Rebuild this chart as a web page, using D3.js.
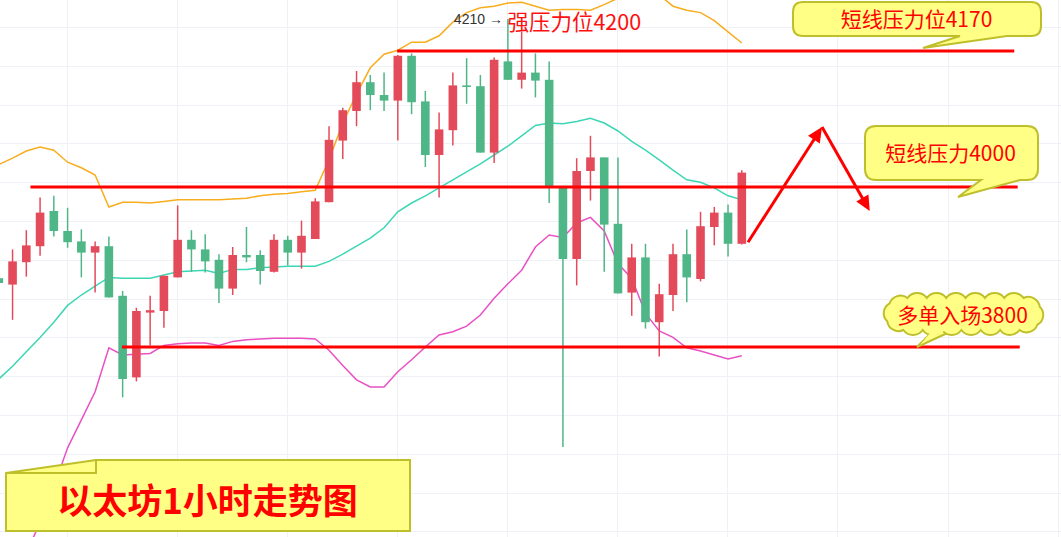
<!DOCTYPE html>
<html><head><meta charset="utf-8">
<script src="https://cdn.jsdelivr.net/npm/d3@7/dist/d3.min.js"></script>
<style>html,body{margin:0;padding:0;background:#fff;overflow:hidden}</style>
</head><body>
<svg id="chart" width="1061" height="537"></svg>
<script>
// ---- data (ETH 1h candles, red = up, green = down) ----
const openP  = [3886,3878,3906,3926,3970,3945,3932,3918,3926,3864,3762,3843,3845,3887,3934,3922,3909,3873,3915,3915,3894,3934,3918,3935,3981,4058,4095,4131,4115,4108,4164,4107,4040,4071,4127,4126,4043,4157,4134,4143,4134,4000,3910,4020,4037,3954,3868,3912,3831,3865,3916,3885,3950,3968,3929];
const highP  = [3890,3922,3946,3987,3989,3974,3947,3932,3938,3870,3849,3864,3889,3977,3946,3941,3916,3925,3950,3921,3941,3939,3958,3986,4076,4099,4145,4140,4143,4165,4167,4120,4093,4143,4161,4140,4162,4210,4194,4167,4157,4000,4036,4064,4037,4037,3929,3929,3879,3929,3947,3969,3975,3978,4021];
const lowP   = [3875,3834,3888,3914,3938,3924,3887,3868,3862,3737,3757,3802,3824,3887,3894,3893,3855,3865,3906,3878,3893,3902,3898,3935,3981,4035,4076,4096,4095,4058,4091,4025,3987,4052,4104,4043,4030,4134,4123,4112,3980,3675,3877,3983,3894,3867,3839,3823,3788,3845,3856,3882,3927,3913,3928];
const closeP = [3880,3907,3927,3968,3945,3931,3918,3926,3862,3760,3845,3846,3889,3934,3922,3907,3873,3915,3912,3895,3934,3918,3939,3982,4059,4096,4131,4115,4108,4164,4106,4040,4072,4127,4125,4043,4159,4134,4143,4133,4000,3910,4020,4037,3953,3867,3912,3831,3866,3916,3887,3951,3968,3929,4018];
const bbUpper = [4028,4036,4045,4050,4046,4031,4024,4015,3975,3981,3981,3980,3982,3984,3984,3984,3984,3985,3986,3989,3991,3992,3994,3996,4034,4080,4116,4149,4166,4171,4181,4181,4189,4206,4218,4224,4226,4230,4231,4226,4221,4222,4222,4221,4228,4236,4244,4246,4240,4226,4221,4218,4208,4194,4180];
const bbMid   = [3760,3776,3794,3812,3831,3852,3865,3876,3887,3886,3886,3886,3890,3894,3895,3896,3892,3897,3897,3899,3900,3901,3901,3901,3907,3916,3926,3936,3949,3969,3980,3989,3999,4009,4019,4029,4040,4051,4064,4077,4080,4079,4082,4086,4080,4070,4057,4046,4034,4021,4009,4006,3999,3989,3984];
const bbLower = [3492,3516,3542,3581,3625,3674,3709,3744,3799,3790,3791,3792,3802,3804,3805,3805,3802,3807,3809,3810,3811,3811,3811,3810,3796,3777,3759,3750,3750,3769,3784,3800,3815,3819,3826,3840,3861,3879,3896,3925,3940,3937,3955,3962,3945,3904,3886,3842,3820,3812,3799,3795,3790,3785,3789];
const levelPrices = [4170, 4000, 3800];
const levelStart  = [28.95, 2.3, 8.95];   // candle index where each drawn line starts
const levelEnd    = [73.8, 74.05, 74.2];
const arrowPath   = [[54.45, 3931], [59.83, 4075], [63.3, 3970]]; // [index, price]
const highLabel   = "4210 →";
const highNote    = "强压力位4200";
const callout1 = "短线压力位4170";
const callout2 = "短线压力4000";
const callout3 = "多单入场3800";
const title = "以太坊1小时走势图";

// ---- setup ----
const W = 1061, H = 537;
const svg = d3.select("#chart");
const n = openP.length;
const x = d3.scaleLinear().domain([0, n - 1]).range([-1.2, 741.8]);
const y = d3.scaleLinear().domain([3562.5, 4233.75]).range([H, 0]);
const RED = "#e34b5b", GREEN = "#4fb687";
const CJK = "'Noto Sans CJK SC','Noto Sans',sans-serif";

// grid
const gx = d3.range(4.95, 80, 8);
const gy = d3.range(4200, 3540, -48.5);
const grid = svg.append("g").attr("stroke", "#eef2f7").attr("stroke-width", 1);
grid.selectAll("line.v").data(gx).join("line").attr("class","v")
  .attr("x1", d => Math.round(x(d)) + 0.5).attr("x2", d => Math.round(x(d)) + 0.5)
  .attr("y1", 0).attr("y2", H);
grid.selectAll("line.h").data(gy).join("line").attr("class","h")
  .attr("y1", d => Math.round(y(d)) + 0.5).attr("y2", d => Math.round(y(d)) + 0.5)
  .attr("x1", 0).attr("x2", W);

// bollinger bands
const line = arr => d3.line().x((d, i) => x(i)).y(d => y(d))(arr);
svg.append("path").attr("d", line(bbUpper)).attr("fill","none").attr("stroke","#f7ad1e").attr("stroke-width",1.5);
svg.append("path").attr("d", line(bbMid)).attr("fill","none").attr("stroke","#3dd6b4").attr("stroke-width",1.5);
svg.append("path").attr("d", line(bbLower)).attr("fill","none").attr("stroke","#e950c4").attr("stroke-width",1.5);

// candles
const idx = d3.range(n);
const cg = svg.append("g");
const col = i => closeP[i] >= openP[i] ? RED : GREEN;
cg.selectAll("line").data(idx).join("line")
  .attr("x1", i => x(i)).attr("x2", i => x(i))
  .attr("y1", i => y(highP[i])).attr("y2", i => y(lowP[i]))
  .attr("stroke", col).attr("stroke-width", 1.5);
const bw = 8.6;
cg.selectAll("rect").data(idx).join("rect")
  .attr("x", i => x(i) - bw / 2).attr("width", bw)
  .attr("y", i => y(Math.max(openP[i], closeP[i])))
  .attr("height", i => Math.max(1.5, Math.abs(y(openP[i]) - y(closeP[i]))))
  .attr("fill", col);

// level lines
svg.append("g").selectAll("line").data(levelPrices).join("line")
  .attr("x1", (d, i) => x(levelStart[i])).attr("x2", (d, i) => x(levelEnd[i]))
  .attr("y1", d => y(d)).attr("y2", d => y(d))
  .attr("stroke", "#ff0000").attr("stroke-width", 3);

// arrows
const ap = arrowPath.map(([i, p]) => [x(i), y(p)]);
function arrowSeg(a, b) {
  const dx = b[0] - a[0], dy = b[1] - a[1], L = Math.hypot(dx, dy);
  const ux = dx / L, uy = dy / L, hl = 15, hw = 7;
  const bx = b[0] - ux * hl, by = b[1] - uy * hl;
  svg.append("line").attr("x1", a[0]).attr("y1", a[1]).attr("x2", bx + ux * 2).attr("y2", by + uy * 2)
    .attr("stroke", "#ff0000").attr("stroke-width", 3);
  svg.append("path").attr("d", `M${b[0]},${b[1]}L${bx - uy * hw},${by + ux * hw}L${bx + uy * hw},${by - ux * hw}Z`)
    .attr("fill", "#ff0000");
}
arrowSeg(ap[0], ap[1]);
arrowSeg(ap[1], ap[2]);

// high label
const hx = x(37), hy = y(4210);
svg.append("text").attr("x", hx - 5).attr("y", hy).attr("text-anchor", "end")
  .attr("dominant-baseline", "central").attr("font-family", "'Liberation Sans',Arial,sans-serif")
  .attr("font-size", 14).attr("fill", "#333").text(highLabel);
svg.append("text").attr("x", hx - 0.5).attr("y", hy + 1).attr("text-anchor", "start")
  .attr("dominant-baseline", "central").attr("font-family", CJK)
  .attr("font-size", 21.5).attr("fill", "#ff1010").text(highNote);

// callouts
const FILL = "#ffff85", EDGE = "#bfbf2c";
function bubble(x0, y0, x1, y1, r, tail) { // tail: [baseRight, tipX, tipY, baseLeft] on bottom edge
  const [br, tx, ty, bl] = tail;
  return `M${x0 + r},${y0}H${x1 - r}Q${x1},${y0} ${x1},${y0 + r}V${y1 - r}Q${x1},${y1} ${x1 - r},${y1}` +
         `H${br}L${tx},${ty}L${bl},${y1}H${x0 + r}Q${x0},${y1} ${x0},${y1 - r}V${y0 + r}Q${x0},${y0} ${x0 + r},${y0}Z`;
}
svg.append("path").attr("d", bubble(793, 2, 1041, 36, 10, [1007, 923, 48, 960]))
  .attr("fill", FILL).attr("stroke", EDGE).attr("stroke-width", 2);
svg.append("path").attr("d", bubble(865, 126, 1038, 180, 11, [1020, 958, 197, 981]))
  .attr("fill", FILL).attr("stroke", EDGE).attr("stroke-width", 2);

// cloud callout: scalloped stadium shape
function cloud(cx, cy, a, b, N) {
  const straight = 2 * (a - b), arc = Math.PI * b, P = 2 * straight + 2 * arc;
  const at = s => { // clockwise from top-left start of straight top edge
    s = ((s % P) + P) % P;
    if (s < straight) return [cx - a + b + s, cy - b];
    s -= straight;
    if (s < arc) { const t = -Math.PI / 2 + s / b; return [cx + a - b + b * Math.cos(t), cy + b * Math.sin(t)]; }
    s -= arc;
    if (s < straight) return [cx + a - b - s, cy + b];
    s -= straight;
    const t = Math.PI / 2 + s / b; return [cx - a + b + b * Math.cos(t), cy + b * Math.sin(t)];
  };
  const pts = d3.range(N).map(k => at(P * k / N + 6));
  let d = `M${pts[0][0]},${pts[0][1]}`;
  for (let k = 1; k <= N; k++) {
    const p = pts[k % N], q = pts[k - 1];
    const r = Math.hypot(p[0] - q[0], p[1] - q[1]) * 0.62;
    d += `A${r},${r} 0 0 1 ${p[0]},${p[1]}`;
  }
  return d + "Z";
}
const tailPath = "M934,330L917,347L954,330Z";
svg.append("path").attr("d", tailPath).attr("fill", FILL).attr("stroke", EDGE).attr("stroke-width", 2);
svg.append("path").attr("d", cloud(963.5, 314, 78, 16, 18)).attr("fill", FILL).attr("stroke", EDGE).attr("stroke-width", 2);
svg.append("path").attr("d", "M936,326L920,345L951,327Z").attr("fill", FILL);

// title note
svg.append("path").attr("d", "M6,473L96,460H410V531H6Z").attr("fill", FILL).attr("stroke", EDGE).attr("stroke-width", 2);
svg.append("path").attr("d", "M96,460V473H6").attr("fill", "none").attr("stroke", EDGE).attr("stroke-width", 2);

const txt = (tx, ty, s, size, weight) => svg.append("text").attr("x", tx).attr("y", ty)
  .attr("text-anchor", "middle").attr("dominant-baseline", "central")
  .attr("font-family", CJK).attr("font-size", size).attr("font-weight", weight || 400)
  .attr("fill", "#ff0000").text(s);
txt(916.5, 18, callout1, 21);
txt(950.5, 152, callout2, 21);
txt(962.5, 314, callout3, 21);
txt(207.5, 498, title, 35, 700);
</script>
</body></html>
